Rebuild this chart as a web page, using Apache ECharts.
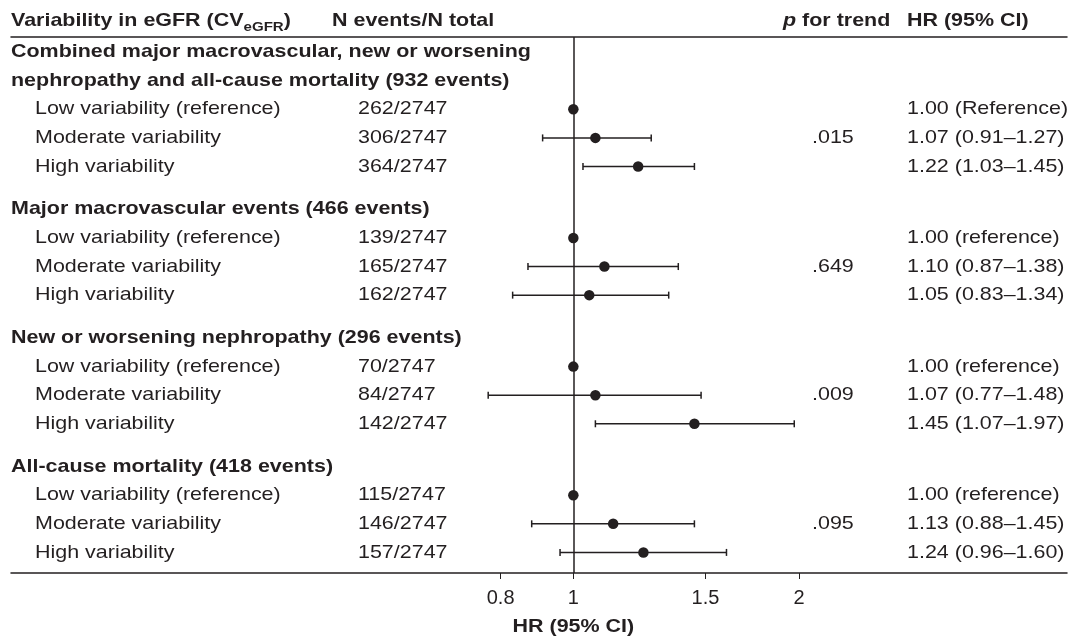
<!DOCTYPE html>
<html>
<head>
<meta charset="utf-8">
<script src="https://cdn.jsdelivr.net/npm/echarts@6/dist/echarts.min.js"></script>
<style>
html, body { margin: 0; padding: 0; background: #fff; }
#chart { width: 1072px; height: 639px; }
</style>
</head>
<body>
<div id="chart"></div>
<script>
// outcomes, top to bottom
const groupTitles = [
    'Combined major macrovascular, new or worsening\nnephropathy and all-cause mortality (932 events)',
    'Major macrovascular events (466 events)',
    'New or worsening nephropathy (296 events)',
    'All-cause mortality (418 events)'
];
const levels = ['Low variability (reference)', 'Moderate variability', 'High variability'];
const nEvents = [
    ['262/2747', '306/2747', '364/2747'],
    ['139/2747', '165/2747', '162/2747'],
    ['70/2747', '84/2747', '142/2747'],
    ['115/2747', '146/2747', '157/2747']
];
const hr = [
    [1.00, 1.07, 1.22],
    [1.00, 1.10, 1.05],
    [1.00, 1.07, 1.45],
    [1.00, 1.13, 1.24]
];
const lower = [
    [null, 0.91, 1.03],
    [null, 0.87, 0.83],
    [null, 0.77, 1.07],
    [null, 0.88, 0.96]
];
const upper = [
    [null, 1.27, 1.45],
    [null, 1.38, 1.34],
    [null, 1.48, 1.97],
    [null, 1.45, 1.60]
];
const pTrend = ['.015', '.649', '.009', '.095'];
const refLabels = ['1.00 (Reference)', '1.00 (reference)', '1.00 (reference)', '1.00 (reference)'];
const xTicks = [0.8, 1, 1.5, 2];

const INK = '#231f20';
const FONT = '"Liberation Sans", Arial, sans-serif';
const STRETCH = 1.16; // the type in the figure is set a bit wide
// column left edges in px
const COL = { title: 11, level: 35, n: 358, p: 812, hr: 907 };
const HEAD_Y = -1.09; // header row, in row units (above the rule)
const AXIS_TITLE_Y = 20.1;

// lay the rows out: title line(s), then the three levels, then half a row gap
let points = [];
let texts = [];
let pos = 0;
groupTitles.forEach((title, g) => {
    let lines = title.split('\n');
    lines.forEach((line, i) => {
        texts.push({ y: pos + i, x: COL.title, text: line, bold: true });
    });
    pos += lines.length;
    levels.forEach((level, k) => {
        let lo = lower[g][k];
        let hi = upper[g][k];
        texts.push({ y: pos, x: COL.level, text: level });
        texts.push({ y: pos, x: COL.n, text: nEvents[g][k] });
        if (k === 1) {
            texts.push({ y: pos, x: COL.p, text: pTrend[g] });
        }
        let ci = lo == null
            ? refLabels[g]
            : hr[g][k].toFixed(2) + ' (' + lo.toFixed(2) + '–' + hi.toFixed(2) + ')';
        texts.push({ y: pos, x: COL.hr, text: ci });
        points.push({ y: pos, hr: hr[g][k], lo: lo, hi: hi });
        pos += 1;
    });
    pos += 0.5;
});

// column headers
texts.push({ y: HEAD_Y, x: COL.title, text: 'Variability in eGFR (CV{sub|eGFR})', bold: true });
texts.push({ y: HEAD_Y, x: 332, text: 'N events/N total', bold: true });
texts.push({ y: HEAD_Y, x: 783, text: '{it|p} for trend', bold: true });
texts.push({ y: HEAD_Y, x: COL.hr, text: 'HR (95% CI)', bold: true });
// axis title sits under HR = 1
texts.push({ y: AXIS_TITLE_Y, atHr: 1, text: 'HR (95% CI)', bold: true });

var myChart = echarts.init(document.getElementById('chart'));
let option = {
    animation: false,
    grid: { left: 11, right: 5, top: 37, bottom: 66 },
    xAxis: [
        {
            type: 'log',
            min: 0.178,
            max: 4.55,
            axisLine: { onZero: false, lineStyle: { color: INK, width: 1.5 } },
            axisTick: { customValues: xTicks, length: 6, lineStyle: { color: INK, width: 1 } },
            axisLabel: { customValues: xTicks, color: INK, fontSize: 20, fontFamily: FONT, margin: 15 },
            splitLine: { show: false }
        },
        {
            type: 'value',
            position: 'top',
            min: 0,
            max: 1,
            axisLine: { onZero: false, lineStyle: { color: INK, width: 1.5 } },
            axisTick: { show: false },
            axisLabel: { show: false },
            splitLine: { show: false }
        }
    ],
    yAxis: {
        type: 'value',
        inverse: true,
        min: -0.53,
        max: 18.22,
        show: false
    },
    series: [
        {
            // 95% CI whiskers
            type: 'custom',
            data: points.filter(p => p.lo != null).map(p => [p.lo, p.hi, p.y]),
            encode: { x: [0, 1], y: 2 },
            renderItem: (params, api) => {
                let a = api.coord([api.value(0), api.value(2)]);
                let b = api.coord([api.value(1), api.value(2)]);
                let s = { stroke: INK, lineWidth: 1.5 };
                return {
                    type: 'group',
                    children: [
                        { type: 'line', shape: { x1: a[0], y1: a[1], x2: b[0], y2: b[1] }, style: s },
                        { type: 'line', shape: { x1: a[0], y1: a[1] - 3.5, x2: a[0], y2: a[1] + 3.5 }, style: s },
                        { type: 'line', shape: { x1: b[0], y1: b[1] - 3.5, x2: b[0], y2: b[1] + 3.5 }, style: s }
                    ]
                };
            },
            silent: true
        },
        {
            type: 'scatter',
            data: points.map(p => [p.hr, p.y]),
            symbolSize: 10.5,
            itemStyle: { color: INK, opacity: 1 },
            z: 5,
            markLine: {
                silent: true,
                symbol: 'none',
                label: { show: false },
                lineStyle: { color: INK, width: 1.5, type: 'solid' },
                data: [{ xAxis: 1 }]
            }
        },
        {
            // table text
            type: 'custom',
            data: texts.map(t => [1, t.y]),
            renderItem: (params, api) => {
                let t = texts[params.dataIndex];
                let p = api.coord([t.atHr || 1, t.y]);
                return {
                    type: 'text',
                    x: t.atHr ? p[0] : t.x,
                    y: p[1],
                    scaleX: STRETCH,
                    style: {
                        text: t.text,
                        fill: INK,
                        fontFamily: FONT,
                        fontSize: 18.5,
                        fontWeight: t.bold ? 'bold' : 'normal',
                        lineHeight: 26,
                        align: t.atHr ? 'center' : 'left',
                        verticalAlign: 'middle',
                        rich: {
                            sub: { fontSize: 13, fontWeight: 'bold', fontFamily: FONT, fill: INK, lineHeight: 14, verticalAlign: 'bottom' },
                            it: { fontSize: 18.5, fontWeight: 'bold', fontStyle: 'italic', fontFamily: FONT, fill: INK, lineHeight: 26 }
                        }
                    }
                };
            },
            silent: true
        }
    ]
};
myChart.setOption(option);
</script>
</body>
</html>
